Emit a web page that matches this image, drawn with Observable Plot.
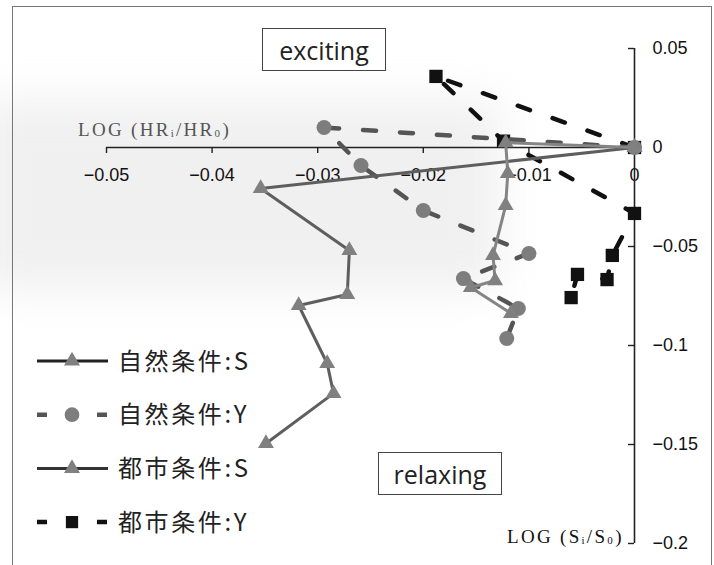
<!DOCTYPE html>
<html><head><meta charset="utf-8">
<script src="https://cdn.jsdelivr.net/npm/d3@7"></script>
<script src="https://cdn.jsdelivr.net/npm/@observablehq/plot@0.6"></script>
<style>
body{margin:0;background:#fff;}
#wrap{position:relative;width:714px;height:565px;overflow:hidden;background:#fff;}
#shade{position:absolute;left:-20px;top:100px;width:520px;height:190px;background:#f0f0f0;filter:blur(22px);}
#frame{position:absolute;left:12px;top:6px;width:700px;height:620px;border:1.5px solid #777;box-sizing:border-box;}
#chart{position:absolute;left:0;top:0;}
.box{position:absolute;border:1.5px solid #444;background:#fff;font-family:"Open Sans",sans-serif;font-size:25px;color:#222;display:flex;align-items:center;justify-content:center;box-sizing:border-box;}
.axlab{position:absolute;font-family:"Liberation Serif",serif;font-size:19px;letter-spacing:2.3px;white-space:nowrap;}
.axlab sub{font-size:11px;vertical-align:baseline;position:relative;top:1px;}
#legend{position:absolute;left:0;top:0;}
</style></head>
<body>
<div id="wrap">
  <div id="shade"></div>
  <div id="frame"></div>
  <div id="chart"></div>
  <div class="box" style="left:262px;top:28px;width:124px;height:43px;">exciting</div>
  <div class="box" style="left:378px;top:452px;width:124px;height:43px;">relaxing</div>
  <div class="axlab" style="left:78px;top:119px;color:#555;">LOG (HR<sub>i</sub>/HR<sub>0</sub>)</div>
  <div class="axlab" style="left:507px;top:526px;color:#111;">LOG (S<sub>i</sub>/S<sub>0</sub>)</div>
  <svg id="legend" width="714" height="565"></svg>
</div>
<script>
// ---- data ----
const seriesNames = ["自然条件:S", "自然条件:Y", "都市条件:S", "都市条件:Y"];

const xTicks = [-0.05, -0.04, -0.03, -0.02, -0.01, 0];
const xTickLabels = ["−0.05", "−0.04", "−0.03", "−0.02", "−0.01", "0"];
const yTicks = [0.05, 0, -0.05, -0.1, -0.15, -0.2];
const yTickLabels = ["0.05", "0", "−0.05", "−0.1", "−0.15", "−0.2"];

const shizenS_x = [0, -0.0354, -0.0270, -0.0272, -0.0318, -0.0291, -0.0285, -0.0349];
const shizenS_y = [0, -0.0207, -0.0520, -0.0742, -0.0798, -0.1091, -0.1242, -0.1495];

const shizenY_x = [0, -0.0294, -0.0259, -0.0200, -0.0100, -0.0162, -0.0110, -0.0121];
const shizenY_y = [0, 0.0101, -0.0091, -0.0318, -0.0535, -0.0662, -0.0813, -0.0965];

const toshiS_x = [0, -0.0122, -0.0120, -0.0122, -0.0134, -0.0132, -0.0155, -0.0117];
const toshiS_y = [0, 0.0025, -0.0131, -0.0293, -0.0545, -0.0672, -0.0707, -0.0838];

const toshiY_x = [0, -0.0188, -0.0124, 0, -0.0021, -0.0026, -0.0054, -0.0060];
const toshiY_y = [0, 0.0359, 0.0032, -0.0333, -0.0545, -0.0667, -0.0641, -0.0758];

// ---- build ----
const pts = (xs, ys) => xs.map((x, i) => ({x, y: ys[i]}));
const sS = pts(shizenS_x, shizenS_y);
const sY = pts(shizenY_x, shizenY_y);
const tS = pts(toshiS_x, toshiS_y);
const tY = pts(toshiY_x, toshiY_y);

const font = "Liberation Sans, Arial, sans-serif";
const xMin = d3.min(xTicks), xMax = d3.max(xTicks);
const yMin = d3.min(yTicks), yMax = d3.max(yTicks);

const chart = Plot.plot({
  width: 714, height: 565,
  marginLeft: 106, marginRight: 80, marginTop: 48, marginBottom: 22,
  style: {background: "transparent", fontFamily: font, overflow: "visible"},
  x: {domain: [xMin, xMax], axis: null},
  y: {domain: [yMin, yMax], axis: null},
  marks: [
    // x axis (at y = 0)
    Plot.ruleY([0], {x1: xMin, x2: xMax, stroke: "#222", strokeWidth: 1.6}),
    Plot.ruleX(xTicks, {x: d => d, y1: 0, y2: 0, insetBottom: -6, stroke: "#222", strokeWidth: 1.4}),
    Plot.text(xTicks, {x: d => d, y: 0, text: (d, i) => xTickLabels[i], dy: 28, fontSize: 18, fill: "#111"}),
    // y axis (at x = 0)
    Plot.ruleX([0], {y1: yMin, y2: yMax, stroke: "#222", strokeWidth: 1.6}),
    Plot.ruleY(yTicks, {y: d => d, x1: 0, x2: 0, insetLeft: -6, stroke: "#222", strokeWidth: 1.4}),
    Plot.text(yTicks, {x: 0, y: d => d, text: (d, i) => yTickLabels[i], dx: 18, textAnchor: "start", fontSize: 18, fill: "#111"}),
    // 都市条件:Y
    Plot.line(tY, {x: "x", y: "y", stroke: "#111", strokeWidth: 4.5, strokeDasharray: "13,24"}),
    Plot.dot(tY, {x: "x", y: "y", symbol: "square", r: 7.5, fill: "#111"}),
    // 自然条件:Y
    Plot.line(sY, {x: "x", y: "y", stroke: "#555", strokeWidth: 4.5, strokeDasharray: "13,24"}),
    Plot.dot(sY, {x: "x", y: "y", symbol: "circle", r: 7.5, fill: "#7d7d7d"}),
    // 自然条件:S
    Plot.line(sS, {x: "x", y: "y", stroke: "#5e5e5e", strokeWidth: 3}),
    Plot.dot(sS, {x: "x", y: "y", symbol: "triangle", r: 5.9, fill: "#808080"}),
    // 都市条件:S
    Plot.line(tS, {x: "x", y: "y", stroke: "#858585", strokeWidth: 3}),
    Plot.dot(tS, {x: "x", y: "y", symbol: "triangle", r: 5.9, fill: "#808080"})
  ]
});
document.getElementById("chart").appendChild(chart);

// ---- legend ----
const legendStyles = [
  {stroke: "#222", dash: null, sym: d3.symbolTriangle, size: 110, fill: "#808080"},
  {stroke: "#555", dash: "10,50", sym: d3.symbolCircle, size: 170, fill: "#7d7d7d"},
  {stroke: "#333", dash: null, sym: d3.symbolTriangle, size: 110, fill: "#808080"},
  {stroke: "#111", dash: "10,50", sym: d3.symbolSquare, size: 150, fill: "#111"}
];
const leg = d3.select("#legend");
const rows = leg.selectAll("g").data(seriesNames).join("g")
  .attr("transform", (d, i) => `translate(37,${361 + i * 53.7})`);
rows.append("line").attr("x1", 0).attr("x2", 71).attr("y1", 0).attr("y2", 0)
  .attr("stroke", (d, i) => legendStyles[i].stroke)
  .attr("stroke-width", (d, i) => legendStyles[i].dash ? 4.5 : 3)
  .attr("stroke-dasharray", (d, i) => legendStyles[i].dash);
rows.append("path").attr("transform", "translate(35,0)")
  .attr("d", (d, i) => d3.symbol(legendStyles[i].sym, legendStyles[i].size)())
  .attr("fill", (d, i) => legendStyles[i].fill);
rows.append("text").attr("x", 81).attr("y", 8.5)
  .attr("font-family", "Noto Sans CJK JP, sans-serif").attr("font-size", 24)
  .attr("letter-spacing", 2.6).attr("fill", "#222")
  .text(d => d);
</script>
</body></html>
